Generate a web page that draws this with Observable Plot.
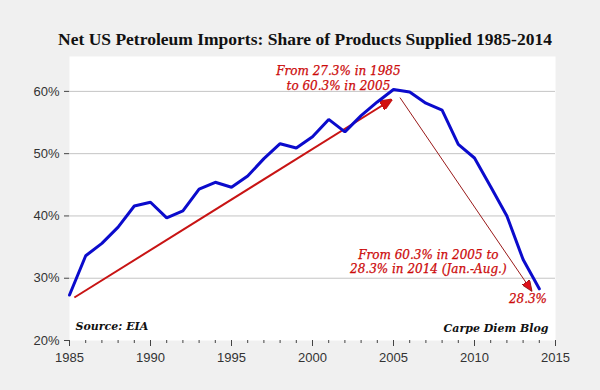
<!DOCTYPE html>
<html><head><meta charset="utf-8">
<script src="https://cdn.jsdelivr.net/npm/d3@7"></script>
<script src="https://cdn.jsdelivr.net/npm/@observablehq/plot@0.6"></script>
<style>
body{margin:0;background:#f0f0f0;width:600px;height:390px;overflow:hidden}
#title{height:48px;box-sizing:border-box;padding-top:31px;padding-left:10px;text-align:center;font:bold 17.5px "Liberation Serif",serif;line-height:17px;color:#111;white-space:nowrap}
#chart svg{display:block}
</style></head><body>
<div id="title">Net US Petroleum Imports: Share of Products Supplied 1985-2014</div>
<div id="chart"></div>
<script>
// Data
const years = [1985,1986,1987,1988,1989,1990,1991,1992,1993,1994,1995,1996,1997,1998,1999,
               2000,2001,2002,2003,2004,2005,2006,2007,2008,2009,2010,2011,2012,2013,2014];
const shares = [27.3,33.6,35.6,38.2,41.6,42.2,39.7,40.8,44.3,45.4,44.6,46.4,49.2,51.6,50.9,
                52.7,55.5,53.5,56.1,58.3,60.3,59.9,58.1,57.0,51.5,49.3,44.7,40.0,33.0,28.3];
// Axis ticks
const xLabelTicks = [1985,1990,1995,2000,2005,2010,2015];
const xMinorTicks = years.concat([2015]);
const yTicks = [20,30,40,50,60];
const yGrid = [30,40,50,60];
// Annotations (data units)
const note1 = ["From 27.3% in 1985\nto 60.3% in 2005"];
const note1X = [2001.6], note1Y = [62.2];
const note2 = ["From 60.3% in 2005 to\n28.3% in 2014 (Jan.-Aug.)"];
const note2X = [2007.15], note2Y = [32.7];
const note3 = ["28.3%"];
const note3X = [2013.3], note3Y = [26.6];
const arrow1 = [{x1: 1985.3, y1: 26.9, x2: 2004.9, y2: 58.7}];
const arrow2 = [{x1: 2005.4, y1: 59.0, x2: 2013.55, y2: 27.9}];

const table = years.map((year, i) => ({year, share: shares[i]}));

function triangle(len, wid, fill) {
  return () => {
    const ns = "http://www.w3.org/2000/svg";
    const m = document.createElementNS(ns, "marker");
    m.setAttribute("viewBox", `0 ${-wid / 2} ${len} ${wid}`);
    m.setAttribute("refX", len);
    m.setAttribute("refY", 0);
    m.setAttribute("markerUnits", "userSpaceOnUse");
    m.setAttribute("markerWidth", len);
    m.setAttribute("markerHeight", wid);
    m.setAttribute("orient", "auto");
    const p = document.createElementNS(ns, "path");
    p.setAttribute("d", `M0,${-wid / 2}L${len},0L0,${wid / 2}Z`);
    p.setAttribute("fill", fill);
    m.appendChild(p);
    return m;
  };
}

const serif = '"DejaVu Serif", "Liberation Serif", serif';
const red = "#cc0a0a";

const plot = Plot.plot({
  width: 600,
  height: 342,
  marginLeft: 69,
  marginRight: 45,
  marginTop: 8,
  marginBottom: 50,
  style: {background: "transparent", fontFamily: '"Liberation Sans", Arial, sans-serif', fontSize: "13px", color: "#333"},
  x: {domain: [1985, 2015]},
  y: {domain: [20, 65.6]},
  marks: [
    Plot.frame({fill: "white", stroke: "none"}),
    Plot.gridY(yGrid, {stroke: "#c4c4c4", strokeOpacity: 1, strokeWidth: 1}),
    Plot.axisY(yTicks, {tickSize: 5, tickPadding: 5, tickFormat: d => d + "%", label: null, stroke: "#444"}),
    Plot.axisX(xMinorTicks, {tickSize: 3, tickFormat: () => "", label: null, stroke: "#444"}),
    Plot.axisX(xLabelTicks, {tickSize: 6, tickPadding: 6, tickFormat: d => String(d), label: null, stroke: "#444"}),
    Plot.link(arrow1, {x1: "x1", y1: "y1", x2: "x2", y2: "y2", stroke: "#c81414", strokeWidth: 2, markerEnd: triangle(12, 10, "#d40f0f")}),
    Plot.link(arrow2, {x1: "x1", y1: "y1", x2: "x2", y2: "y2", stroke: "#9a1a1a", strokeWidth: 1, markerEnd: triangle(11, 9, "#e0101a")}),
    Plot.line(table, {x: "year", y: "share", stroke: "#0b0bcc", strokeWidth: 3, strokeLinejoin: "miter"}),
    Plot.text(note1, {x: note1X, y: note1Y, fill: red, fontFamily: serif, fontStyle: "italic", fontSize: 12, lineHeight: 1.25, textAnchor: "middle", stroke: red, strokeWidth: 0.25}),
    Plot.text(note2, {x: note2X, y: note2Y, fill: red, fontFamily: serif, fontStyle: "italic", fontSize: 12, lineHeight: 1.2, textAnchor: "middle", stroke: red, strokeWidth: 0.25}),
    Plot.text(note3, {x: note3X, y: note3Y, fill: red, fontFamily: serif, fontStyle: "italic", fontSize: 12, textAnchor: "middle", stroke: red, strokeWidth: 0.25}),
    Plot.text(["Source: EIA"], {frameAnchor: "bottom-left", dx: 6, dy: -11, fill: "#111", fontFamily: serif, fontStyle: "italic", fontWeight: "bold", fontSize: 11}),
    Plot.text(["Carpe Diem Blog"], {frameAnchor: "bottom-right", dx: -7, dy: -9, fill: "#111", fontFamily: serif, fontStyle: "italic", fontWeight: "bold", fontSize: 11})
  ]
});
document.getElementById("chart").appendChild(plot);
</script>
</body></html>
